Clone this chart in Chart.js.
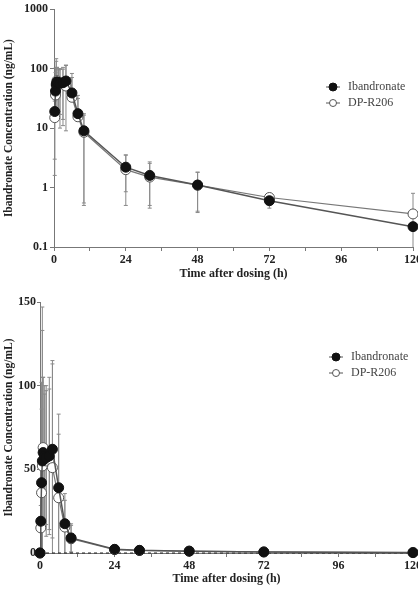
<!DOCTYPE html>
<html>
<head>
<meta charset="utf-8">
<script src="https://cdn.jsdelivr.net/npm/chart.js@4.4.1/dist/chart.umd.min.js"></script>
<style>
  html, body { margin: 0; padding: 0; background: #fff; overflow: hidden; }
  body { width: 418px; height: 590px; position: relative; }
  .box { position: absolute; left: 0; width: 430px; }
  #top { top: 0; height: 285px; }
  #bottom { top: 290px; height: 300px; }
</style>
</head>
<body>
<div class="box" id="top"><canvas id="logChart"></canvas></div>
<div class="box" id="bottom"><canvas id="linChart"></canvas></div>
<script>
// sampling times (h)
const times = [0, 0.25, 0.5, 0.75, 1, 1.5, 2, 3, 4, 6, 8, 10, 24, 32, 48, 72, 120];

// mean concentrations (ng/mL)
const ibandronate = [0, 19, 42, 55, 60, 58, 57, 58, 62, 39, 17.5, 9, 2.2, 1.6, 1.1, 0.6, 0.22];
const dpR206      = [0, 15, 36, 52, 63, 57, 55, 56, 51, 33, 15.5, 8.5, 2.0, 1.5, 1.1, 0.68, 0.36];

// standard deviations
const ibandronateSD = [0, 16, 60, 78, 45, 42, 40, 47, 53, 44, 18, 8.45, 1.35, 1.1, 0.72, 0.15, 0.15];
const dpR206SD      = [0, 13.4, 50, 95, 42, 38, 45, 42, 62, 38, 16, 8, 1.5, 1.05, 0.7, 0.12, 0.44];

const xTicks = [0, 24, 48, 72, 96, 120];
const logTicks = [0.1, 1, 10, 100, 1000];
const linTicks = [0, 50, 100, 150];
const seriesNames = ['Ibandronate', 'DP-R206'];

const serif = "'Liberation Serif', 'Times New Roman', serif";
const textColor = '#222';
const axisColor = '#777';

function points(vals, skipZero) {
    const out = [];
    times.forEach((t, i) => {
        if (skipZero && vals[i] <= 0) return;
        out.push({ x: t, y: vals[i] });
    });
    return out;
}

function sds(vals, sd, skipZero) {
    const out = [];
    times.forEach((t, i) => {
        if (skipZero && vals[i] <= 0) return;
        out.push(sd[i]);
    });
    return out;
}

// error bars drawn through the chart's own scales
const errorBars = {
    id: 'errorBars',
    beforeDatasetsDraw(chart) {
        const { ctx, chartArea, scales } = chart;
        const isLog = scales.y.type === 'logarithmic';
        ctx.save();
        ctx.beginPath();
        ctx.rect(chartArea.left - 6, chartArea.top, chartArea.right - chartArea.left + 12, chartArea.bottom - chartArea.top);
        ctx.clip();
        ctx.strokeStyle = '#8a8a8a';
        ctx.lineWidth = 1;
        chart.data.datasets.forEach(ds => {
            if (!ds.errors) return;
            ds.data.forEach((p, i) => {
                const sd = ds.errors[i];
                if (!sd) return;
                const px = scales.x.getPixelForValue(p.x);
                const hi = scales.y.getPixelForValue(p.y + sd);
                const loVal = p.y - sd;
                let lo = null;
                if (loVal > 0 || !isLog) lo = scales.y.getPixelForValue(Math.max(loVal, isLog ? loVal : 0));
                const mid = scales.y.getPixelForValue(p.y);
                ctx.beginPath();
                ctx.moveTo(px, mid);
                ctx.lineTo(px, hi);
                ctx.moveTo(px - 2, hi);
                ctx.lineTo(px + 2, hi);
                if (lo !== null) {
                    ctx.moveTo(px, mid);
                    ctx.lineTo(px, lo);
                    if (!(loVal <= 0 && !isLog)) {
                        ctx.moveTo(px - 2, lo);
                        ctx.lineTo(px + 2, lo);
                    }
                }
                ctx.stroke();
            });
        });
        ctx.restore();
    }
};

// small legend in the upper right of the plot
const sideLegend = {
    id: 'sideLegend',
    afterDraw(chart, args, opts) {
        const { ctx } = chart;
        ctx.save();
        ctx.font = '12px ' + serif;
        ctx.textBaseline = 'middle';
        seriesNames.forEach((name, i) => {
            const ds = chart.data.datasets[i];
            const y = opts.y + i * 16;
            const x = opts.x;
            ctx.strokeStyle = '#555';
            ctx.lineWidth = 1;
            ctx.beginPath();
            ctx.moveTo(x - 7, y);
            ctx.lineTo(x + 7, y);
            ctx.stroke();
            ctx.beginPath();
            ctx.arc(x, y, i === 0 ? 4 : 3.5, 0, Math.PI * 2);
            ctx.fillStyle = ds.pointBackgroundColor;
            ctx.fill();
            ctx.strokeStyle = ds.pointBorderColor;
            ctx.stroke();
            ctx.fillStyle = '#444';
            ctx.fillText(name, x + 15, y);
        });
        ctx.restore();
    }
};

function makeDatasets(skipZero) {
    return [
        {
            label: seriesNames[0],
            data: points(ibandronate, skipZero),
            errors: sds(ibandronate, ibandronateSD, skipZero),
            borderColor: '#555',
            borderWidth: 1.5,
            pointRadius: 5,
            pointBackgroundColor: '#111',
            pointBorderColor: '#111',
            pointBorderWidth: 1
        },
        {
            label: seriesNames[1],
            data: points(dpR206, skipZero),
            errors: sds(dpR206, dpR206SD, skipZero),
            borderColor: '#777',
            borderWidth: 1.2,
            pointRadius: 5,
            pointBackgroundColor: '#fff',
            pointBorderColor: '#555',
            pointBorderWidth: 1
        }
    ];
}

function xScale(height) {
    return {
        type: 'linear',
        min: 0,
        max: 120,
        afterBuildTicks: s => { s.ticks = [0, 12, 24, 36, 48, 60, 72, 84, 96, 108, 120].map(v => ({ value: v })); },
        afterFit: s => { s.height = height; },
        ticks: {
            autoSkip: false,
            maxRotation: 0,
            padding: 2,
            color: textColor,
            font: { family: serif, size: 12, weight: 'bold' },
            callback: v => xTicks.includes(v) ? String(v) : ''
        },
        grid: { drawOnChartArea: false, tickLength: 4, color: axisColor },
        border: { color: axisColor, width: 1 },
        title: {
            display: true,
            text: 'Time after dosing (h)',
            color: textColor,
            font: { family: serif, size: 12, weight: 'bold' },
            padding: { top: 0, bottom: 4 }
        }
    };
}

function yTitle() {
    return {
        display: true,
        text: 'Ibandronate Concentration (ng/mL)',
        color: textColor,
        font: { family: serif, size: 11.5, weight: 'bold' },
        padding: { top: 2, bottom: 0 }
    };
}

const common = {
    responsive: true,
    maintainAspectRatio: false,
    animation: false,
    showLine: true,
    clip: false,
    plugins: { legend: { display: false }, tooltip: { enabled: false } }
};

new Chart(document.getElementById('logChart'), {
    type: 'scatter',
    data: { datasets: makeDatasets(true) },
    plugins: [errorBars, sideLegend],
    options: Object.assign({}, common, {
        layout: { padding: { top: 6, right: 17, left: 0, bottom: 0 } },
        plugins: {
            legend: { display: false },
            tooltip: { enabled: false },
            sideLegend: { x: 333, y: 87 }
        },
        scales: {
            x: xScale(38),
            y: {
                type: 'logarithmic',
                min: 0.1,
                max: 1000,
                afterBuildTicks: s => { s.ticks = logTicks.map(v => ({ value: v })); },
                afterFit: s => { s.width = 54; },
                ticks: {
                    padding: 2,
                    color: textColor,
                    font: { family: serif, size: 12, weight: 'bold' },
                    callback: v => String(v)
                },
                grid: { drawOnChartArea: false, tickLength: 4, color: axisColor },
                border: { color: axisColor, width: 1 },
                title: yTitle()
            }
        }
    })
});

const linSets = makeDatasets(false);
linSets.push({
    label: 'zero',
    data: [{ x: 0, y: 0 }, { x: 120, y: 0 }],
    borderColor: '#222',
    borderWidth: 1,
    borderDash: [3, 3],
    pointRadius: 0
});

new Chart(document.getElementById('linChart'), {
    type: 'scatter',
    data: { datasets: linSets },
    plugins: [errorBars, sideLegend],
    options: Object.assign({}, common, {
        layout: { padding: { top: 12, right: 17, left: 0, bottom: 0 } },
        plugins: {
            legend: { display: false },
            tooltip: { enabled: false },
            sideLegend: { x: 336, y: 67 }
        },
        scales: {
            x: xScale(37),
            y: {
                type: 'linear',
                min: 0,
                max: 150,
                afterBuildTicks: s => { s.ticks = linTicks.map(v => ({ value: v })); },
                afterFit: s => { s.width = 40; },
                ticks: {
                    padding: 1,
                    color: textColor,
                    font: { family: serif, size: 12, weight: 'bold' }
                },
                grid: { drawOnChartArea: false, tickLength: 3, color: axisColor },
                border: { color: axisColor, width: 1 },
                title: yTitle()
            }
        }
    })
});
</script>
</body>
</html>
